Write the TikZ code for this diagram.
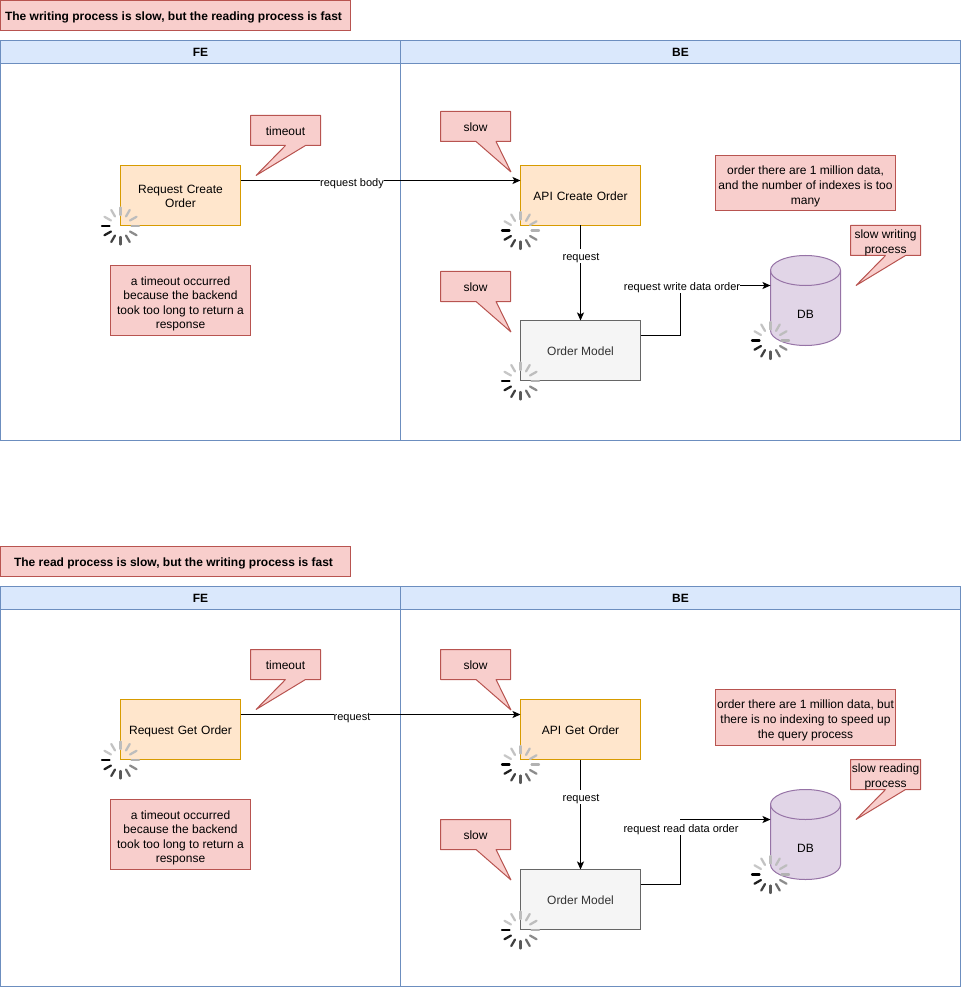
\documentclass[tikz,border=0pt]{standalone}
\usepackage{fontspec}
\setmainfont{Liberation Sans}
\usetikzlibrary{arrows.meta,calc}
\definecolor{redF}{HTML}{F8CECC}
\definecolor{redS}{HTML}{B85450}
\definecolor{orF}{HTML}{FFE6CC}
\definecolor{orS}{HTML}{D79B00}
\definecolor{blF}{HTML}{DAE8FC}
\definecolor{blS}{HTML}{6C8EBF}
\definecolor{grF}{HTML}{F5F5F5}
\definecolor{grS}{HTML}{666666}
\definecolor{puF}{HTML}{E1D5E7}
\definecolor{puS}{HTML}{9673A6}
\newcommand{\topgap}{\rule{0pt}{11.6pt}}
\newcommand{\topgapc}{\rule{0pt}{10.4pt}}
\tikzset{
  x=0.75pt,y=-0.75pt,
  every node/.style={font=\fontsize{9pt}{10.9pt}\selectfont,inner sep=0pt,outer sep=0pt,align=center,text=black,
    execute at begin node={\rule{0pt}{9pt}},execute at end node={\rule[-1.8pt]{0pt}{1.8pt}}},
  boxbase/.style={draw,line width=0.75pt,anchor=center},
  lane/.style={boxbase,draw=blS},
  lanehead/.style={lane,fill=blF,font=\fontsize{9pt}{10.9pt}\selectfont\bfseries},
  notebox/.style={boxbase,draw=redS,fill=redF},
  titlebox/.style={notebox,font=\fontsize{9pt}{10.9pt}\selectfont\bfseries,
    execute at end node={\rule[-1.8pt]{0pt}{1.8pt}\hspace*{3pt}}},
  orbox/.style={boxbase,draw=orS,fill=orF,minimum width=90pt,minimum height=45pt,text width=80pt},
  modelbox/.style={boxbase,draw=grS,fill=grF,text=black!80,minimum width=90pt,minimum height=45pt},
  flow/.style={draw=black,line width=0.75pt,-{Stealth[length=6pt,width=5.25pt,inset=1.4pt]}},
  flowlabel/.style={fill=white,font=\fontsize{8.25pt}{10pt}\selectfont,inner sep=0pt,
    execute at begin node={\rule{0pt}{8pt}},execute at end node={\rule[-1.6pt]{0pt}{1.6pt}}},
  callshape/.style={draw=redS,fill=redF,line width=0.75pt,line join=bevel},
  dbshape/.style={draw=puS,fill=puF,line width=0.75pt},
  spinray/.style={line width=1.7pt,line cap=round}
}
% #1,#2 box left and top, #3 base left, #4 tip x, #5 tip y, #6 name, #7 text
\newcommand{\callout}[7]{%
  \path[callshape] (#1,#2) -- ++(70,0) -- ++(0,30) -- (#3+20,#2+30) -- (#4,#5) -- (#3,#2+30) -- (#1,#2+30) -- cycle;
  \node (#6) at (#1+35,#2+15) {#7};
}
\newcommand{\spinner}[2]{%
  \foreach \ang/\shade in {210/22,240/24,270/26,300/26,330/26,0/30,30/45,60/58,90/65,120/75,150/88,180/100}{
    \draw[spinray,black!\shade] ($(#1,#2)+(\ang:11 and 11)$) -- ($(#1,#2)+(\ang:18.5 and 18.5)$);
  }%
}
\newcommand{\cyl}[2]{%
  \path[dbshape] (#1,#2+15) -- (#1,#2+75) arc[start angle=180,end angle=360,x radius=35,y radius=-15] -- (#1+70,#2+15) arc[start angle=0,end angle=180,x radius=35,y radius=-15] -- cycle;
  \path[dbshape,fill=none] (#1,#2+15) arc[start angle=180,end angle=360,x radius=35,y radius=-15];
}
\begin{document}
\begin{tikzpicture}
\useasboundingbox (0,0) rectangle (961,987);
% ---------- top diagram
\node[titlebox,minimum width=262.5pt,minimum height=22.5pt] (t1) at (175.5,15.5) {The writing process is slow, but the reading process is fast};
\node[lane,minimum width=300pt,minimum height=300pt] (fe1) at (200.5,240.5) {};
\node[lane,minimum width=420pt,minimum height=300pt] (be1) at (680.5,240.5) {};
\node[lanehead,minimum width=300pt,minimum height=17.25pt] (feh1) at (200.5,52) {FE};
\node[lanehead,minimum width=420pt,minimum height=17.25pt] (beh1) at (680.5,52) {BE};
\node[orbox] (rc) at (180.5,195.5) {Request Create\\Order};
\node[orbox] (ac) at (580.5,195.5) {API Create Order};
\node[modelbox] (om1) at (580.5,350.5) {Order Model};
\node[notebox,minimum width=135pt,minimum height=41.25pt] (n1) at (805.5,183) {\topgap order there are 1 million data,\\and the number of indexes is too\\many};
\node[notebox,minimum width=105pt,minimum height=52.5pt] (n2) at (180.5,300.5) {\topgap a timeout occurred\\because the backend\\took too long to return a\\response};
\cyl{770.5}{255.5}
\node (dbt1) at (805.5,314) {DB};
\coordinate (db1in) at (770.5,285.5);
\coordinate (rcout) at ($(rc.north east)!0.25!(rc.south east)$);
\coordinate (acin) at ($(ac.north west)!0.25!(ac.south west)$);
\coordinate (om1out) at ($(om1.north east)!0.25!(om1.south east)$);
\draw[flow] (rcout) -- (acin);
\node[flowlabel] (l0) at (352,182) {request body};
\draw[flow] (ac.south) -- (om1.north);
\node[flowlabel] (l5) at (581,256) {request};
\draw[flow] (om1out) -- (680.5,335.5) -- (680.5,285.5) -- (db1in);
\node[flowlabel] (l1) at (682,286) {request write data order};
\callout{250.5}{115.5}{285.5}{256}{175.5}{c1}{timeout}
\callout{440.5}{111.5}{476}{511}{172}{c2}{slow}
\callout{440.5}{271.5}{476}{511}{332}{c3}{slow}
\callout{850.5}{225.5}{885.5}{856}{285.5}{c4}{\topgapc slow writing\\process}
\spinner{120.5}{226}
\spinner{520.5}{230.5}
\spinner{520.5}{381}
\spinner{770.5}{340.5}
% ---------- bottom diagram
\node[titlebox,minimum width=262.5pt,minimum height=22.5pt] (t2) at (175.5,561.5) {The read process is slow, but the writing process is fast};
\node[lane,minimum width=300pt,minimum height=300pt] (fe2) at (200.5,786.5) {};
\node[lane,minimum width=420pt,minimum height=300pt] (be2) at (680.5,786.5) {};
\node[lanehead,minimum width=300pt,minimum height=17.25pt] (feh2) at (200.5,598) {FE};
\node[lanehead,minimum width=420pt,minimum height=17.25pt] (beh2) at (680.5,598) {BE};
\node[orbox] (rg) at (180.5,729.5) {Request Get Order};
\node[orbox] (ag) at (580.5,729.5) {API Get Order};
\node[modelbox] (om2) at (580.5,899.5) {Order Model};
\node[notebox,minimum width=135pt,minimum height=42pt] (n3) at (805.5,717) {\topgap order there are 1 million data, but\\there is no indexing to speed up\\the query process};
\node[notebox,minimum width=105pt,minimum height=52.5pt] (n4) at (180.5,834.5) {\topgap a timeout occurred\\because the backend\\took too long to return a\\response};
\cyl{770.5}{789.5}
\node (dbt2) at (805.5,848) {DB};
\coordinate (db2in) at (770.5,819.5);
\coordinate (rgout) at ($(rg.north east)!0.25!(rg.south east)$);
\coordinate (agin) at ($(ag.north west)!0.25!(ag.south west)$);
\coordinate (om2out) at ($(om2.north east)!0.25!(om2.south east)$);
\draw[flow] (rgout) -- (agin);
\node[flowlabel] (l2) at (352,716) {request};
\draw[flow] (ag.south) -- (om2.north);
\node[flowlabel] (l3) at (581,797) {request};
\draw[flow] (om2out) -- (680.5,884.5) -- (680.5,819.5) -- (db2in);
\node[flowlabel] (l4) at (681,827.5) {request read data order};
\callout{250.5}{649.5}{285.5}{256}{709.5}{c5}{timeout}
\callout{440.5}{649.5}{476}{511}{710}{c6}{slow}
\callout{440.5}{819.5}{476}{511}{880}{c7}{slow}
\callout{850.5}{759.5}{885.5}{856}{819.5}{c8}{\topgapc slow reading\\process}
\spinner{120.5}{760}
\spinner{520.5}{764.5}
\spinner{520.5}{930}
\spinner{770.5}{874.5}
\end{tikzpicture}
\end{document}
